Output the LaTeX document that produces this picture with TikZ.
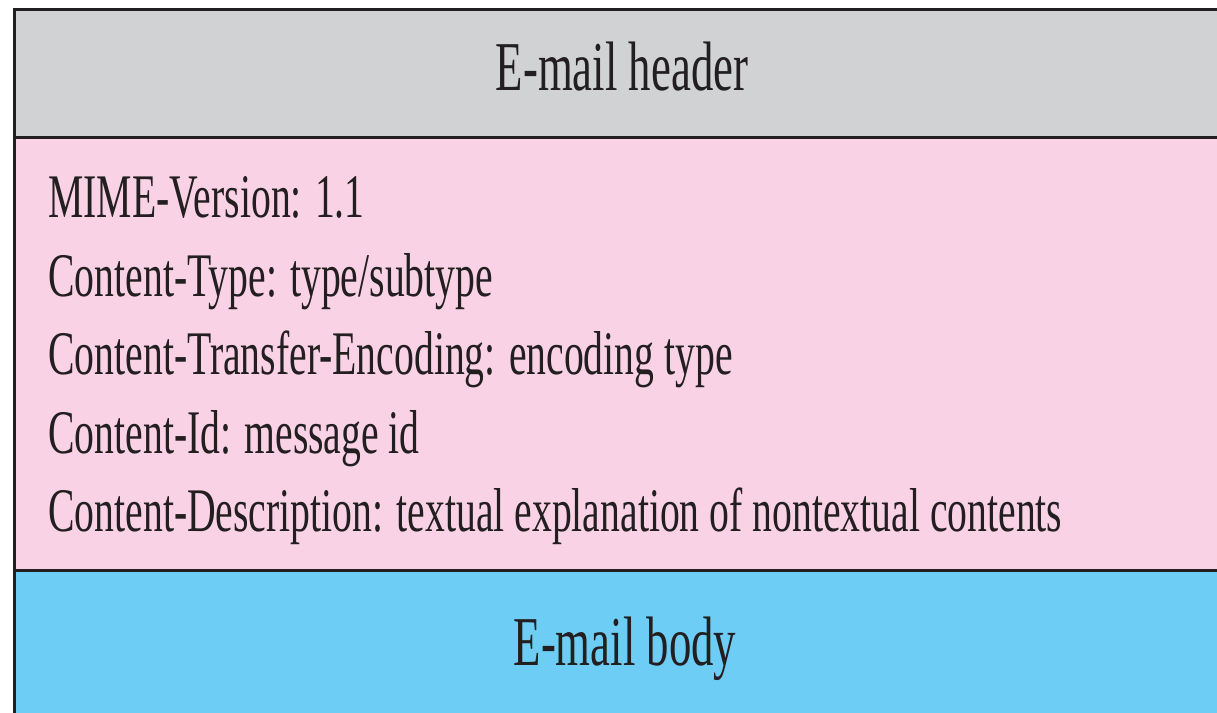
\documentclass[tikz,border=0pt]{standalone}
\usepackage{fontspec}
\setmainfont[FakeStretch=0.64]{Liberation Serif}
\definecolor{hdrgray}{HTML}{D1D2D4}
\definecolor{mimepink}{HTML}{F9D3E5}
\definecolor{bodyblue}{HTML}{6DCDF5}
\definecolor{rulecol}{HTML}{231F20}
\tikzset{
  band/.style={line width=1.5pt,draw=rulecol},
  title/.style={anchor=base,inner sep=0pt,text=rulecol,font=\fontsize{35}{40}\selectfont},
  field/.style={anchor=base west,inner sep=0pt,text=rulecol,font=\fontsize{31}{36}\selectfont}
}
\begin{document}
\begin{tikzpicture}[x=0.5pt,y=-0.5pt]
  \useasboundingbox (0,0) rectangle (1217,713);
  \coordinate (tl) at (14,9);
  \coordinate (tr) at (1230,9);
  \coordinate (ml) at (14,137);
  \coordinate (mr) at (1230,137);
  \coordinate (bl) at (14,570);
  \coordinate (br) at (1230,570);
  \coordinate (el) at (14,720);
  \coordinate (er) at (1230,720);
  % the three bands
  \fill[hdrgray] (tl) rectangle (mr);
  \fill[mimepink] (ml) rectangle (br);
  \fill[bodyblue] (bl) rectangle (er);
  \draw[band] (tr) -- (tl) -- (el);
  \draw[band] (ml) -- (mr);
  \draw[band] (bl) -- (br);
  % texts
  \node[title] (hdr) at (622,90) {E-mail header};
  \node[field] (ver) at (48,217.7) {MIME-Version: 1.1};
  \node[field] (typ) at (48,296.2) {Content-Type: type/subtype};
  \node[field] (enc) at (48,374.7) {Content-Transfer-Encoding: encoding type};
  \node[field] (cid) at (48,453.2) {Content-Id: message id};
  \node[field] (dsc) at (48,531.7) {Content-Description: textual explanation of nontextual contents};
  \node[title] (body) at (625,665) {E-mail body};
\end{tikzpicture}
\end{document}
